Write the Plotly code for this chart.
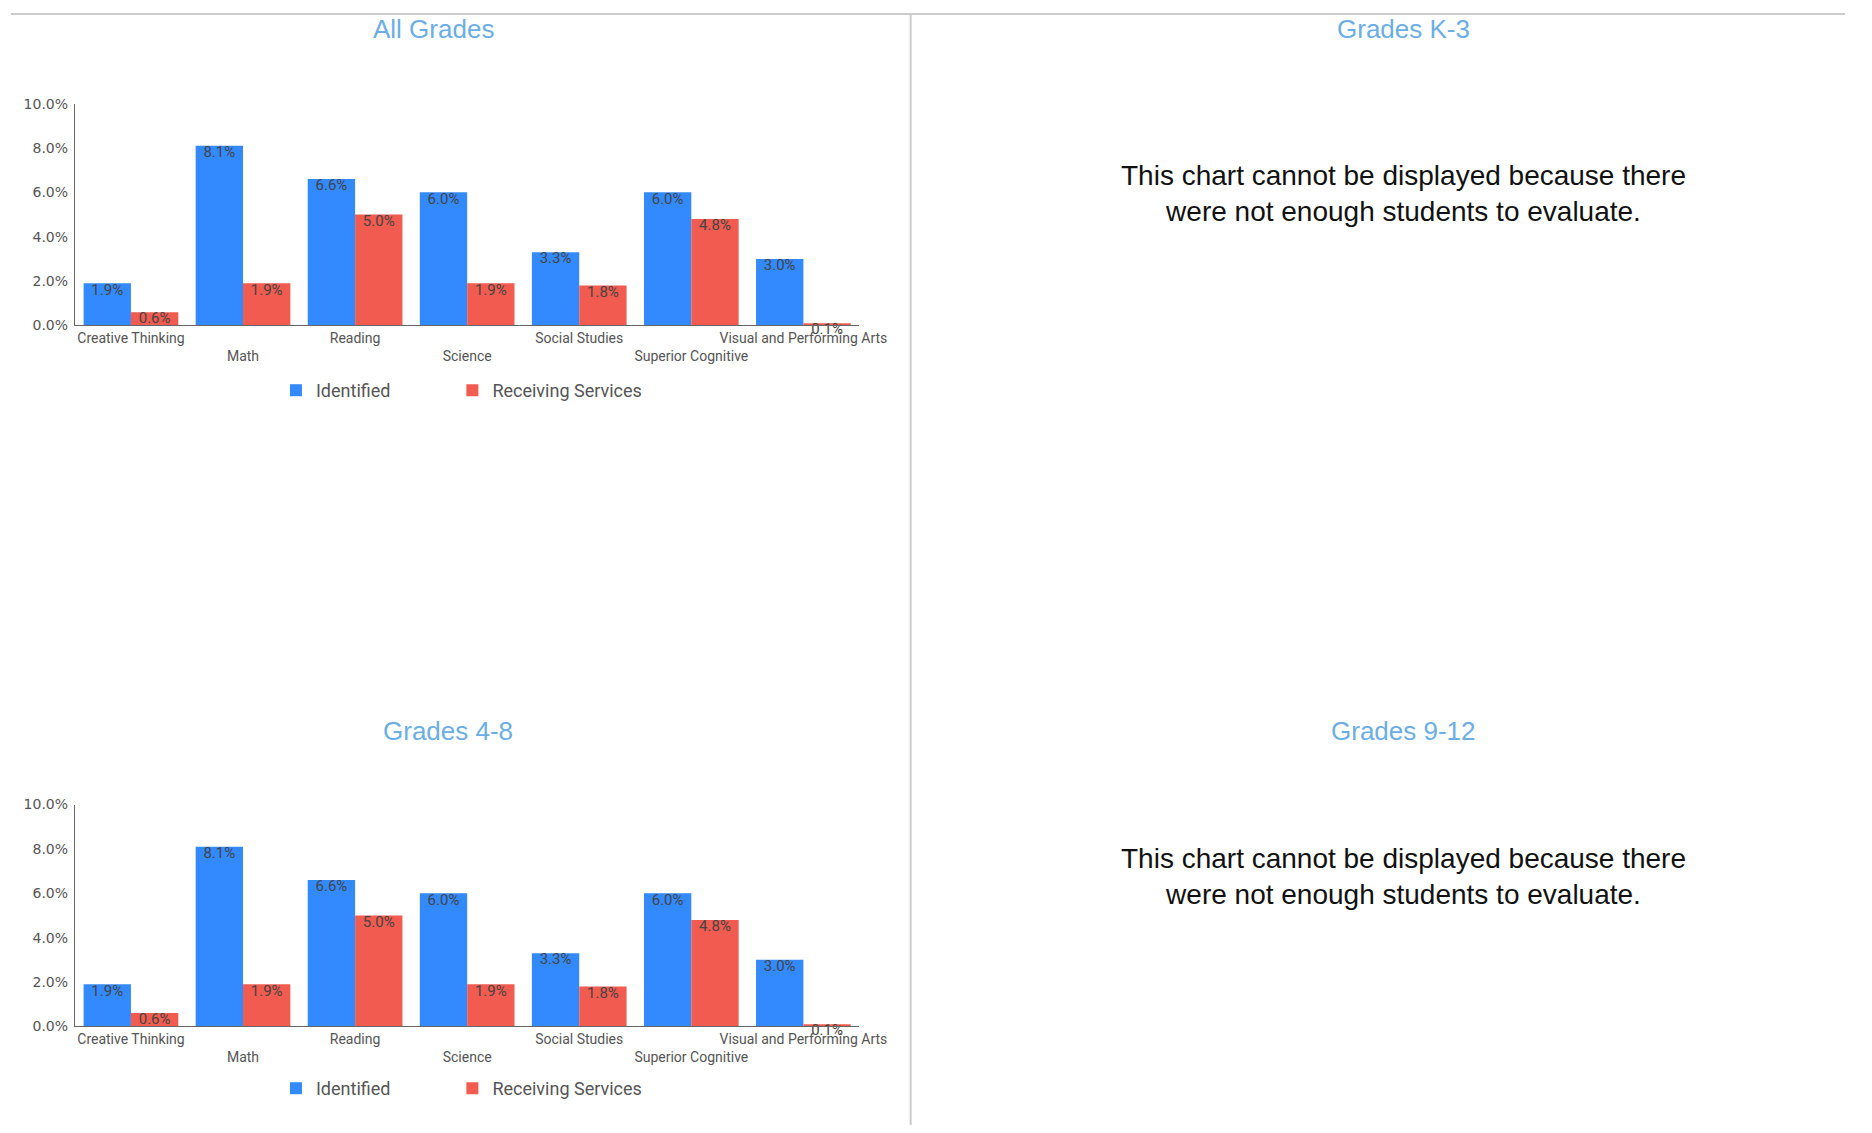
import plotly.graph_objects as go

categories = ["Creative Thinking", "Math", "Reading", "Science", "Social Studies",
              "Superior Cognitive", "Visual and Performing Arts"]
identified_all = [1.9, 8.1, 6.6, 6.0, 3.3, 6.0, 3.0]
receiving_all = [0.6, 1.9, 5.0, 1.9, 1.8, 4.8, 0.1]
identified_48 = [1.9, 8.1, 6.6, 6.0, 3.3, 6.0, 3.0]
receiving_48 = [0.6, 1.9, 5.0, 1.9, 1.8, 4.8, 0.1]
panel_titles = ["All Grades", "Grades K-3", "Grades 4-8", "Grades 9-12"]
series_names = ["Identified", "Receiving Services"]
y_ticks = [0, 2, 4, 6, 8, 10]
message = "This chart cannot be displayed because there<br>were not enough students to evaluate."

W, H = 1872, 1133
BLUE = "#338aff"
RED = "#f25b4f"
TITLE_C = "#6aaee4"
FONT = "Roboto"

# staggered tick labels
tick_text = [c if i % 2 == 0 else "<br>" + c for i, c in enumerate(categories)]


def px(x):
    return x / W


def py(y):
    return 1 - y / H


fig = go.Figure()


def add_panel(ident, recv, xa, ya, legends):
    for name, vals, col, grp, lg in [(series_names[0], ident, BLUE, "a", legends[0]),
                                     (series_names[1], recv, RED, "b", legends[1])]:
        yv = [v / 100 for v in vals]
        fig.add_trace(go.Bar(
            x=categories, y=yv, name=name, offsetgroup=grp,
            marker=dict(color=col, line=dict(width=0)),
            xaxis=xa, yaxis=ya, legend=lg, showlegend=True, hoverinfo="skip",
        ))
        fig.add_trace(go.Scatter(
            x=categories, y=yv, mode="text", offsetgroup=grp,
            text=[f"{v:.1f}%" for v in vals], textposition="bottom center",
            textfont=dict(family=FONT, size=15, color="#444444"),
            xaxis=xa, yaxis=ya, showlegend=False, hoverinfo="skip", cliponaxis=False,
        ))


add_panel(identified_all, receiving_all, "x", "y", ["legend", "legend2"])
add_panel(identified_48, receiving_48, "x2", "y2", ["legend3", "legend4"])

axis_common_x = dict(
    type="category", tickmode="array", tickvals=categories, ticktext=tick_text,
    tickangle=0, showline=True, linecolor="#666666", linewidth=1, showgrid=False, ticks="",
    tickfont=dict(family=FONT, size=14, color="#555555"), fixedrange=True,
)
axis_common_y = dict(
    range=[0, 0.1], tickmode="array", tickvals=[v / 100 for v in y_ticks],
    tickformat=".1%", showline=True, linecolor="#666666", linewidth=1,
    showgrid=False, zeroline=False, ticks="", ticklabelstandoff=3,
    tickfont=dict(family="DejaVu Sans", size=14, color="#555555"), fixedrange=True,
)

legend_common = dict(
    orientation="h", xanchor="left", yanchor="middle",
    font=dict(family=FONT, size=18, color="#555555"),
    bgcolor="rgba(0,0,0,0)", itemclick=False, itemdoubleclick=False,
)

fig.update_layout(
    width=W, height=H, margin=dict(l=0, r=0, t=0, b=0),
    paper_bgcolor="white", plot_bgcolor="white",
    barmode="group", bargap=0.155, bargroupgap=0.0,
    scattermode="group", scattergap=0.155,
    xaxis=dict(domain=[px(76), px(872)], anchor="y", **axis_common_x),
    yaxis=dict(domain=[py(322), py(97)], anchor="x", **axis_common_y),
    xaxis2=dict(domain=[px(76), px(872)], anchor="y2", **axis_common_x),
    yaxis2=dict(domain=[py(1033), py(808)], anchor="x2", **axis_common_y),
    legend=dict(x=px(280), y=py(388), **legend_common),
    legend2=dict(x=px(459), y=py(388), **legend_common),
    legend3=dict(x=px(280), y=py(1096), **legend_common),
    legend4=dict(x=px(459), y=py(1096), **legend_common),
    showlegend=True,
)

# panel titles
title_pos = [(440, 21), (1424, 21), (455, 733), (1424, 733)]
for t, (tx, ty) in zip(panel_titles, title_pos):
    fig.add_annotation(text=t, x=px(tx), y=py(ty), xref="paper", yref="paper",
                       xanchor="center", yanchor="middle", showarrow=False,
                       font=dict(family="Liberation Sans", size=26, color=TITLE_C))

# messages for empty panels
for my in [188, 881]:
    fig.add_annotation(text=message, x=px(1424), y=py(my), xref="paper", yref="paper",
                       xanchor="center", yanchor="middle", showarrow=False, align="center",
                       font=dict(family="Liberation Sans", size=28, color="#111111"))

# separators
fig.add_shape(type="line", xref="paper", yref="paper", x0=px(11), x1=1, y0=py(6), y1=py(6),
              line=dict(color="#cccccc", width=2))
fig.add_shape(type="line", xref="paper", yref="paper", x0=px(924), x1=px(924), y0=py(6), y1=0,
              line=dict(color="#cccccc", width=2))

fig.write_html(
    "out.html", config={"displayModeBar": False},
    post_script=(
        "document.documentElement.style.margin='0';"
        "document.body.style.margin='0';document.body.style.overflow='hidden';"
        "var gd=document.getElementById('{plot_id}');"
        "gd.style.position='fixed';gd.style.top='0px';gd.style.left='0px';"
    ),
)
